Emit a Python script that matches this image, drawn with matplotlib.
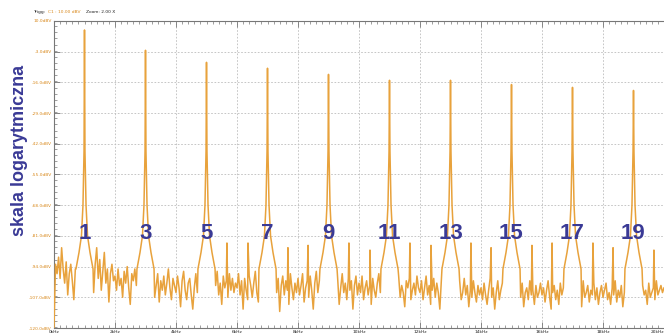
import numpy as np
import matplotlib
matplotlib.use("Agg")
import matplotlib.pyplot as plt
from matplotlib.ticker import MultipleLocator

# ---------------- data ----------------
harmonic_khz = [1, 3, 5, 7, 9, 11, 13, 15, 17, 19]
harmonic_db = [6.2, -2.4, -7.5, -10.0, -12.6, -15.1, -15.1, -16.9, -18.1, -19.4]
harmonic_labels = ["1", "3", "5", "7", "9", "11", "13", "15", "17", "19"]

# skirt of each spectral line: offset from the line (kHz) and level (dBV)
skirt_offset = [-0.28, -0.18, -0.10, -0.05, -0.015, 0.015, 0.05, 0.10, 0.18, 0.28]
skirt_db = [-95, -88, -81, -68, -45, -45, -68, -81, -88, -95]

spur_khz = [5.67, 6.36, 7.67, 8.33, 9.67, 10.36, 11.67, 12.36, 13.67, 14.33,
            15.67, 16.33, 17.67, 18.33, 19.67]
spur_db = [-84, -84, -86, -85, -84, -87, -84, -85, -84, -86,
           -85, -84, -84, -86, -87]

noise_step_khz = 0.05
noise_db = [
    -120, -93, -97, -90, -99, -86, -95, -101, -92, -106, -97, -93, -100, -108, -95, -91, -98, -103, -94, -99,
    -96, -92, -100, -94, -89, -97, -105, -93, -86, -99, -91, -104, -96, -88, -101, -95, -109, -97, -93, -100,
    -98, -104, -95, -102, -99, -107, -96, -101, -94, -103, -110, -97, -100, -95, -102, -98, -94, -99, -96, -92,
    -94, -98, -96, -101, -104, -99, -107, -102, -97, -109, -100, -104, -98, -106, -101, -95, -103, -108, -99, -102,
    -105, -98, -103, -111, -100, -96, -104, -108, -101, -99, -106, -112, -103, -97, -105, -115, -100, -96, -94, -92,
    -93, -97, -100, -104, -99, -108, -102, -96, -106, -101, -110, -98, -103, -100, -107, -97, -104, -99, -105, -101,
    -103, -97, -106, -100, -112, -99, -104, -108, -98, -102, -107, -101, -96, -105, -109, -100, -103, -98, -95, -93,
    -94, -99, -103, -97, -108, -101, -105, -99, -113, -102, -98, -106, -100, -104, -110, -97, -103, -108, -101, -105,
    -99, -106, -102, -97, -109, -103, -100, -107, -98, -104, -112, -101, -96, -105, -100, -108, -99, -103, -96, -94,
    -95, -100, -104, -98, -107, -102, -99, -110, -103, -97, -105, -101, -108, -99, -104, -100, -112, -102, -98, -106,
    -101, -105, -98, -108, -103, -100, -106, -102, -110, -99, -104, -107, -101, -97, -105, -103, -109, -100, -96, -94,
    -96, -101, -106, -100, -109, -104, -98, -107, -102, -105, -111, -100, -103, -99, -108, -104, -101, -106, -98, -103,
    -105, -100, -108, -103, -98, -106, -102, -110, -104, -99, -107, -101, -105, -112, -100, -104, -99, -103, -97, -95,
    -98, -103, -107, -101, -110, -104, -100, -108, -105, -99, -106, -102, -111, -104, -107, -100, -105, -109, -102, -106,
    -103, -108, -101, -106, -110, -104, -99, -107, -103, -112, -105, -100, -108, -104, -101, -106, -103, -99, -97, -95,
    -97, -102, -106, -100, -109, -104, -107, -101, -111, -105, -103, -108, -100, -106, -104, -110, -102, -107, -105, -101,
    -106, -103, -109, -104, -100, -107, -112, -105, -102, -108, -104, -110, -101, -106, -103, -109, -105, -100, -98, -96,
    -99, -103, -108, -101, -106, -104, -111, -100, -107, -105, -102, -109, -104, -106, -101, -108, -103, -110, -105, -102,
    -107, -104, -101, -108, -105, -110, -103, -106, -100, -109, -104, -107, -102, -111, -105, -103, -108, -101, -99, -96,
    -98, -103, -107, -100, -105, -109, -102, -106, -104, -110, -101, -107, -105, -103, -108, -100, -106, -104, -102, -105,
    -103,
]

y_ticks_db = [10, -3, -16, -29, -42, -55, -68, -81, -94, -107, -120]
y_tick_labels = ["10.0dBV", "-3.0dBV", "-16.0dBV", "-29.0dBV", "-42.0dBV", "-55.0dBV",
                 "-68.0dBV", "-81.0dBV", "-94.0dBV", "-107.0dBV", "-120.0dBV"]
x_ticks_khz = [0, 2, 4, 6, 8, 10, 12, 14, 16, 18, 20]
x_tick_labels = ["0kHz", "2kHz", "4kHz", "6kHz", "8kHz", "10kHz", "12kHz",
                 "14kHz", "16kHz", "18kHz", "20kHz"]

# ---------------- build trace ----------------
noise_f = np.arange(len(noise_db)) * noise_step_khz
noise_v = np.array(noise_db, dtype=float)
keep = np.ones(len(noise_f), dtype=bool)
for h in harmonic_khz:
    keep &= np.abs(noise_f - h) > 0.28
f_pts = list(noise_f[keep])
v_pts = list(noise_v[keep])
for h, p in zip(harmonic_khz, harmonic_db):
    for o, d in zip(skirt_offset, skirt_db):
        f_pts.append(h + o)
        v_pts.append(d)
    f_pts.append(h)
    v_pts.append(p)
for s, d in zip(spur_khz, spur_db):
    f_pts.append(s)
    v_pts.append(d)
order = np.argsort(f_pts, kind="stable")
f_arr = np.array(f_pts)[order]
v_arr = np.array(v_pts)[order]

# ---------------- figure ----------------
W, H = 664, 336
fig = plt.figure(figsize=(W / 100, H / 100), dpi=100)
fig.patch.set_facecolor("white")
ax = fig.add_axes([54 / W, 8 / H, 610 / W, 307 / H])

trace_color = "#E8A23C"
ax.plot(f_arr, v_arr, color=trace_color, lw=1.1, zorder=3)

ax.set_xlim(0, 20)
ax.set_ylim(-120, 10)
ax.set_xticks(x_ticks_khz)
ax.set_xticklabels(x_tick_labels, fontsize=3.2, color="#222222")
ax.get_xticklabels()[-1].set_horizontalalignment("right")
ax.set_yticks(y_ticks_db)
ax.set_yticklabels(y_tick_labels, fontsize=3.2, color="#D98A1E")
ax.xaxis.set_minor_locator(MultipleLocator(0.2))
ax.yaxis.set_minor_locator(MultipleLocator(2.6))
ax.tick_params(which="both", direction="in", top=True, right=False, pad=1.5,
               color="#777777")
ax.tick_params(which="major", length=4, width=0.6)
ax.tick_params(which="minor", length=2.5, width=0.5)
ax.grid(True, which="major", color="#bdbdbd", ls=(0, (2, 2)), lw=0.6)
for s in ["left", "top", "bottom"]:
    ax.spines[s].set_color("#777777")
    ax.spines[s].set_linewidth(0.8)
ax.spines["right"].set_visible(False)

label_color = "#3A3A96"
for h, t in zip(harmonic_khz, harmonic_labels):
    ax.text(h, -80, t, ha="center", va="center", fontsize=16,
            fontweight="bold", color=label_color, family="Liberation Sans", zorder=4)

fig.text(20 / W, 1 - 150 / H, "skala logarytmiczna", rotation=90, ha="center",
         va="center", fontsize=13, color=label_color, family="Liberation Sans",
         fontweight="bold")

fig.text(33 / W, 1 - 12 / H, "Trigg:", fontsize=3.2, color="#222222", va="center")
fig.text(48 / W, 1 - 12 / H, "C1 : 10.00 dBV", fontsize=3.2, color="#D98A1E", va="center")
fig.text(86 / W, 1 - 12 / H, "Zoom: 2.00 X", fontsize=3.2, color="#222222", va="center")

fig.savefig("out.png", dpi=100)
